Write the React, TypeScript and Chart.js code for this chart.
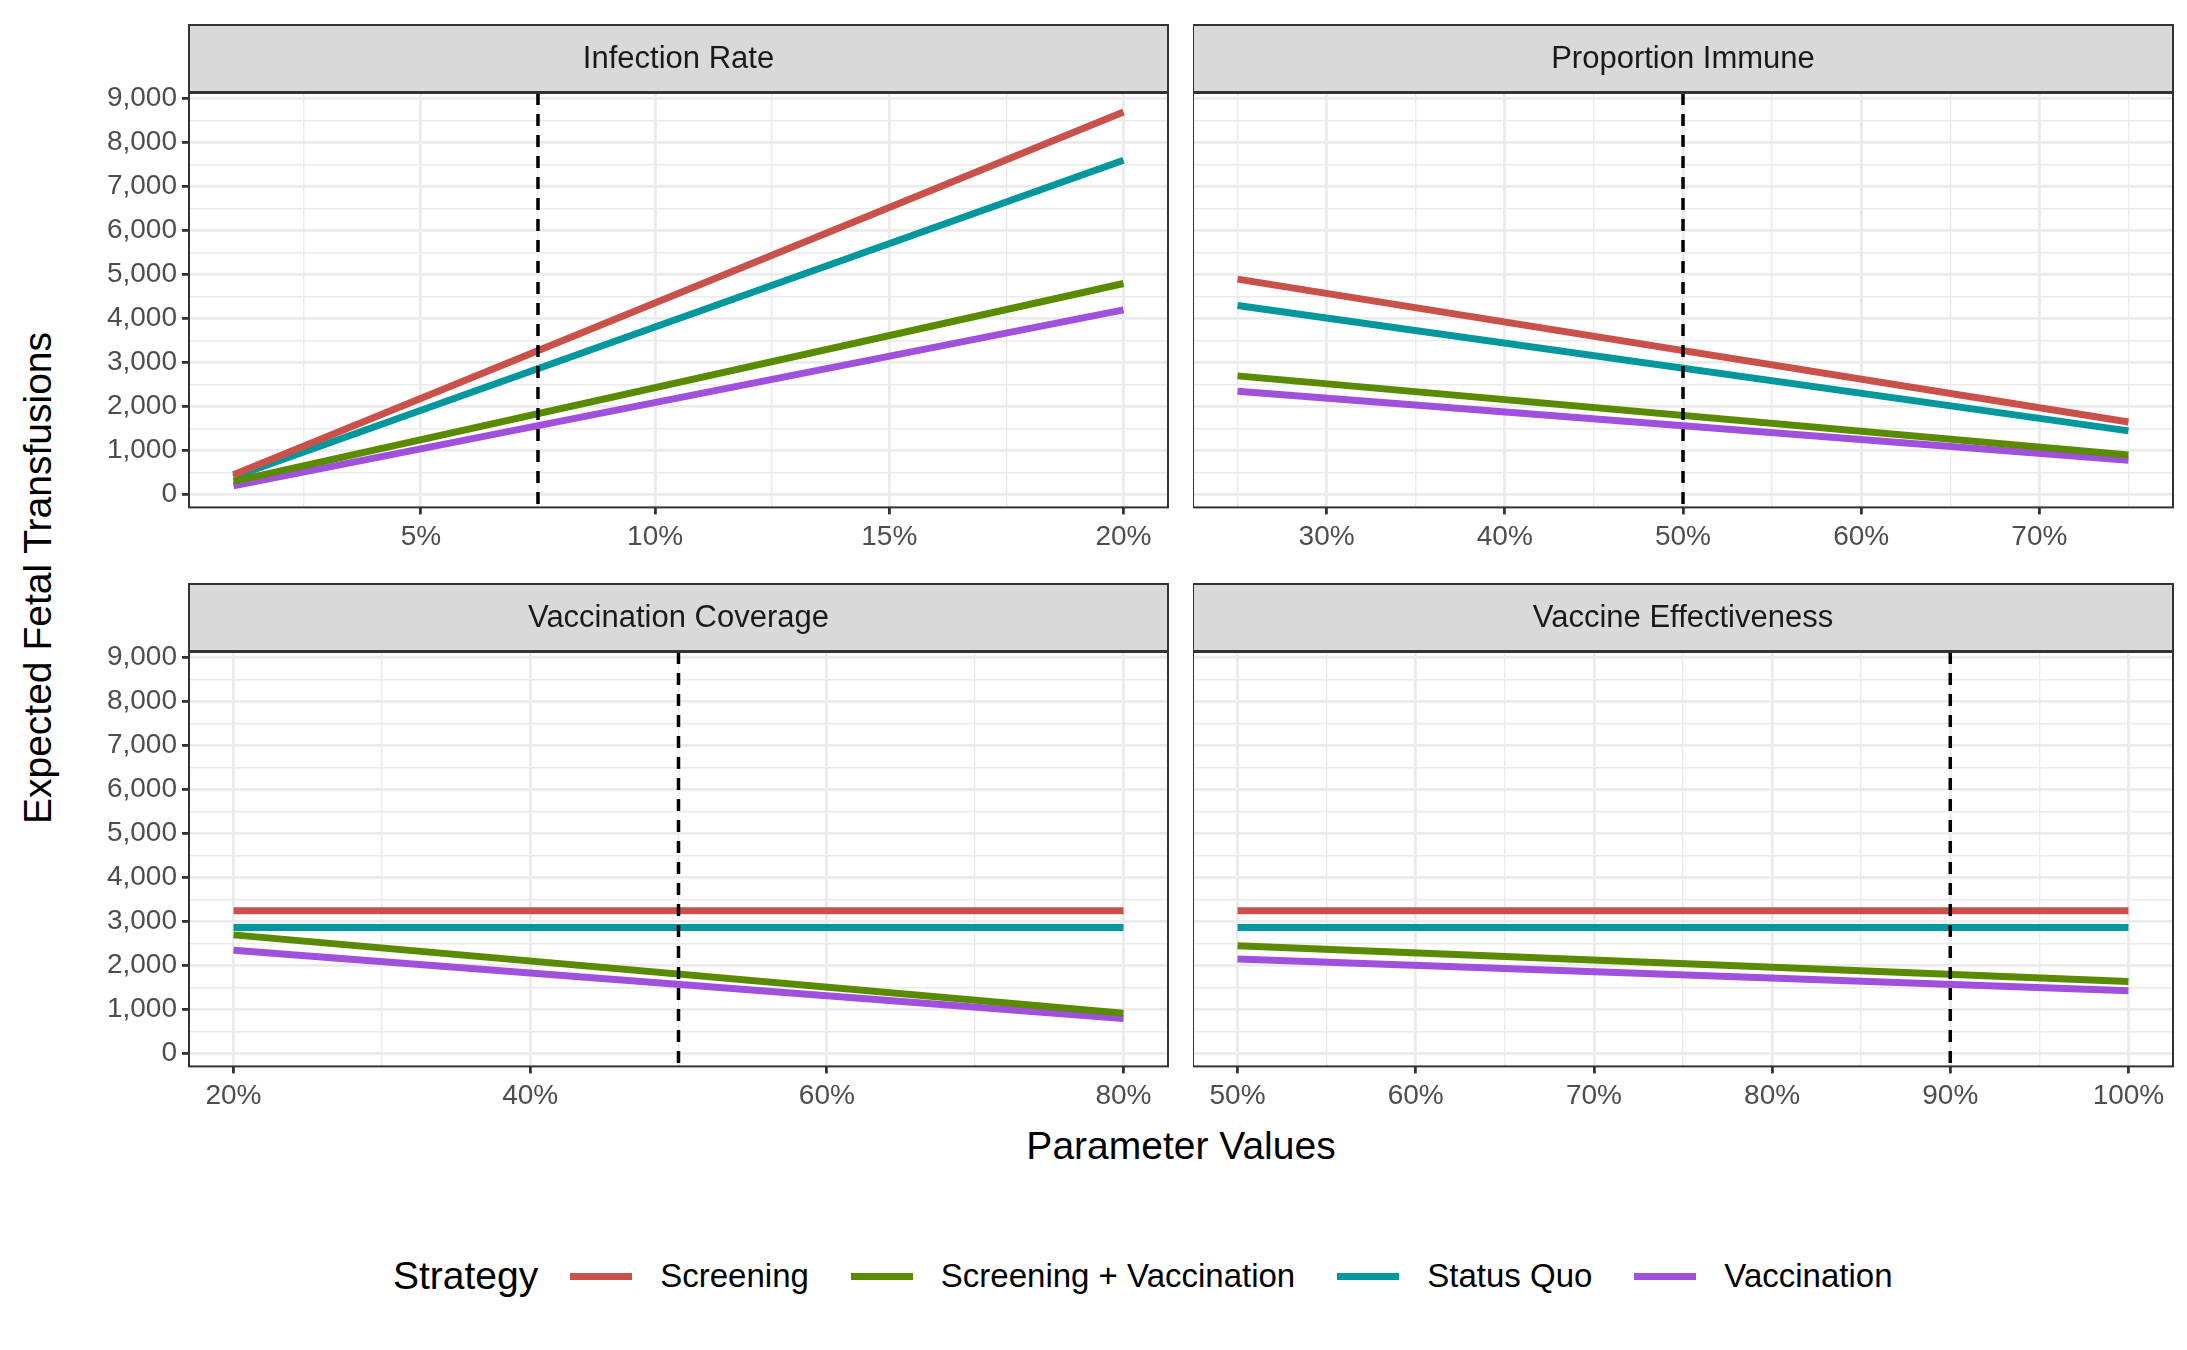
import React, { useEffect, useRef } from "react";
import { Chart, registerables } from "chart.js";
Chart.register(...registerables);

const strategies = ["Screening", "Screening + Vaccination", "Status Quo", "Vaccination"];
const colors = ["#C9514A", "#5A8A00", "#00979D", "#A050DD"];

const panelTitles = ["Infection Rate", "Proportion Immune", "Vaccination Coverage", "Vaccine Effectiveness"];
const panelX = [[1, 20], [25, 75], [20, 80], [50, 100]];
const panelRef = [7.5, 50, 50, 90];
const panelXTicks = [[5, 10, 15, 20], [30, 40, 50, 60, 70], [20, 40, 60, 80], [50, 60, 70, 80, 90, 100]];
const panelXMinor = [[2.5, 7.5, 12.5, 17.5], [25, 35, 45, 55, 65, 75], [30, 50, 70], [55, 65, 75, 85, 95]];
// [start, end] per strategy, order as strategies
const infectionVals = [[450, 8700], [300, 4800], [400, 7600], [200, 4200]];
const immuneVals = [[4900, 1650], [2700, 900], [4300, 1450], [2350, 780]];
const coverageVals = [[3250, 3250], [2700, 920], [2870, 2870], [2350, 800]];
const effectVals = [[3250, 3250], [2450, 1640], [2870, 2870], [2150, 1430]];
const panelVals = [infectionVals, immuneVals, coverageVals, effectVals];
const yTicks = [0, 1000, 2000, 3000, 4000, 5000, 6000, 7000, 8000, 9000];
const yMinor = [500, 1500, 2500, 3500, 4500, 5500, 6500, 7500, 8500];

const FONT = "'Liberation Sans', Arial, sans-serif";
const STRIP = 69;

function Panel({ idx, left, top, width, height, yAxisW, padRight }: any) {
  const ref = useRef<HTMLCanvasElement>(null);
  useEffect(() => {
    const [x0, x1] = panelX[idx];
    const span = x1 - x0;
    const showY = yAxisW > 0;
    const stripPlugin = {
      id: "strip",
      beforeDraw(c: any) {
        const { ctx, chartArea: a } = c;
        ctx.save();
        ctx.fillStyle = "#fff";
        ctx.fillRect(a.left, a.top, a.right - a.left, a.bottom - a.top);
        ctx.fillStyle = "#D9D9D9";
        ctx.fillRect(a.left, 1, a.right - a.left, a.top - 2);
        ctx.strokeStyle = "#333";
        ctx.lineWidth = 2;
        ctx.strokeRect(a.left, 1, a.right - a.left, a.top - 2);
        ctx.fillStyle = "#1A1A1A";
        ctx.font = "31px " + FONT;
        ctx.textAlign = "center";
        ctx.textBaseline = "middle";
        ctx.fillText(panelTitles[idx], (a.left + a.right) / 2, a.top / 2 + 1);
        ctx.restore();
      },
      afterDatasetsDraw(c: any) {
        const { ctx, chartArea: a, scales } = c;
        const px = scales.x.getPixelForValue(panelRef[idx]);
        ctx.save();
        ctx.strokeStyle = "#000";
        ctx.lineWidth = 3.5;
        ctx.setLineDash([12, 9]);
        ctx.beginPath();
        ctx.moveTo(px, a.top);
        ctx.lineTo(px, a.bottom);
        ctx.stroke();
        ctx.setLineDash([]);
        ctx.strokeStyle = "#333";
        ctx.lineWidth = 2;
        ctx.strokeRect(a.left, a.top, a.right - a.left, a.bottom - a.top);
        ctx.restore();
      },
    };
    const xt = [...panelXTicks[idx], ...panelXMinor[idx]].sort((a, b) => a - b);
    const yt = [...yTicks, ...yMinor].sort((a, b) => a - b);
    const isMajX = (v: number) => panelXTicks[idx].includes(v);
    const isMajY = (v: number) => yTicks.includes(v);
    const chart = new Chart(ref.current!, {
      type: "line",
      data: {
        datasets: strategies.map((s, i) => ({
          label: s,
          data: [
            { x: x0, y: panelVals[idx][i][0] },
            { x: x1, y: panelVals[idx][i][1] },
          ],
          borderColor: colors[i],
          borderWidth: 7,
          pointRadius: 0,
          fill: false,
        })),
      },
      options: {
        animation: false,
        responsive: false,
        layout: { padding: { top: STRIP, right: padRight, left: 0, bottom: 0 } },
        plugins: { legend: { display: false }, tooltip: { enabled: false } },
        scales: {
          x: {
            type: "linear",
            min: x0 - span * 0.05,
            max: x1 + span * 0.05,
            afterBuildTicks: (s: any) => { s.ticks = xt.map((v) => ({ value: v })); },
            ticks: {
              autoSkip: false,
              maxRotation: 0,
              color: "#4D4D4D",
              font: { size: 28, family: FONT },
              padding: 6,
              callback: (v: any) => (isMajX(v) ? v + "%" : ""),
            },
            grid: {
              color: "#EBEBEB",
              lineWidth: (c: any) => (c.tick && isMajX(c.tick.value) ? 2.8 : 1.4),
              tickColor: (c: any) => (c.tick && isMajX(c.tick.value) ? "#333" : "rgba(0,0,0,0)"),
              tickLength: 7,
            },
            border: { display: false },
          },
          y: {
            min: -290,
            max: 9130,
            afterBuildTicks: (s: any) => { s.ticks = yt.map((v) => ({ value: v })); },
            afterFit: (s: any) => { s.width = yAxisW; },
            ticks: {
              display: showY,
              autoSkip: false,
              color: "#4D4D4D",
              font: { size: 28, family: FONT },
              padding: 5,
              callback: (v: any) => (isMajY(v) ? Number(v).toLocaleString("en-US") : ""),
            },
            grid: {
              color: "#EBEBEB",
              lineWidth: (c: any) => (c.tick && isMajY(c.tick.value) ? 2.8 : 1.4),
              tickColor: (c: any) => (showY && c.tick && isMajY(c.tick.value) ? "#333" : "rgba(0,0,0,0)"),
              tickLength: showY ? 7 : 0,
              drawTicks: showY,
            },
            border: { display: false },
          },
        },
      },
      plugins: [stripPlugin],
    } as any);
    return () => chart.destroy();
  }, []);
  return (
    <canvas
      ref={ref}
      width={width}
      height={height}
      style={{ position: "absolute", left, top, width, height }}
    />
  );
}

export default function App() {
  const plotLeftL = 189, plotRightL = 1168, plotLeftR = 1193, plotRightR = 2173;
  const topStrip = 24, botStrip = 583;
  const plotH = 415;
  const AX = 125;
  const h = STRIP + plotH + 52;
  return (
    <div style={{ position: "relative", width: 2187, height: 1350, overflow: "hidden", background: "#fff", fontFamily: FONT, margin: -8 }}>
      <Panel idx={0} left={plotLeftL - AX} top={topStrip} width={plotRightL - plotLeftL + AX + 2} height={h} yAxisW={AX} padRight={2} />
      <Panel idx={1} left={plotLeftR} top={topStrip} width={plotRightR - plotLeftR + 14} height={h} yAxisW={0} padRight={14} />
      <Panel idx={2} left={plotLeftL - AX} top={botStrip} width={plotRightL - plotLeftL + AX + 2} height={h} yAxisW={AX} padRight={2} />
      <Panel idx={3} left={plotLeftR} top={botStrip} width={plotRightR - plotLeftR + 14} height={h} yAxisW={0} padRight={14} />
      <div style={{ position: "absolute", left: 38, top: 578, transform: "translate(-50%,-50%) rotate(-90deg)", fontSize: 39, whiteSpace: "nowrap", color: "#000" }}>
        Expected Fetal Transfusions
      </div>
      <div style={{ position: "absolute", left: 1181, top: 1146, transform: "translate(-50%,-50%)", fontSize: 39, whiteSpace: "nowrap", color: "#000" }}>
        Parameter Values
      </div>
      <div style={{ position: "absolute", left: 393, top: 1276, transform: "translateY(-50%)", display: "flex", alignItems: "center", whiteSpace: "nowrap" }}>
        <span style={{ fontSize: 39, marginRight: 32 }}>Strategy</span>
        {strategies.map((s, i) => (
          <span key={s} style={{ display: "flex", alignItems: "center", marginRight: 42 }}>
            <span style={{ display: "inline-block", width: 62, height: 7, background: colors[i], marginRight: 28 }} />
            <span style={{ fontSize: 33 }}>{s}</span>
          </span>
        ))}
      </div>
    </div>
  );
}
